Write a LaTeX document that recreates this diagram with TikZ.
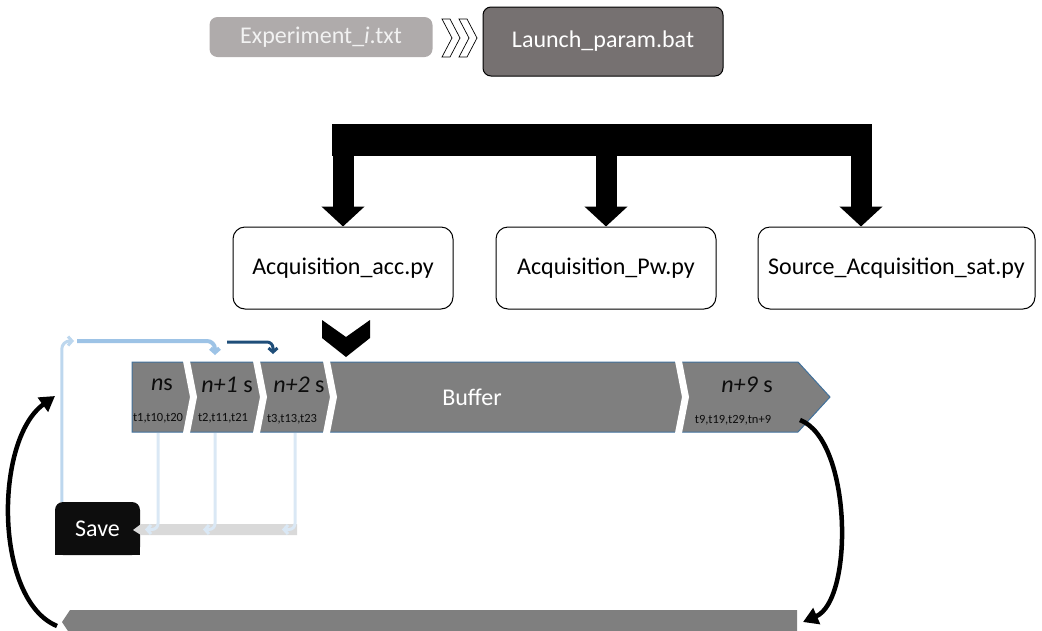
\documentclass[tikz,border=0pt]{standalone}
\usepackage{fontspec}
\setmainfont{Carlito}
\usepackage{tikz}
\usetikzlibrary{arrows.meta,positioning,calc}
\definecolor{Ash}{HTML}{AFABAB}
\definecolor{Graphite}{HTML}{767171}
\definecolor{Steel}{HTML}{7F7F7F}
\definecolor{Rim}{HTML}{41719C}
\definecolor{Sky}{HTML}{9DC3E6}
\definecolor{Mist}{HTML}{BDD7EE}
\definecolor{Haze}{HTML}{DAE8F5}
\definecolor{Navy}{HTML}{1F4E79}
\definecolor{Ink}{HTML}{0D0D0D}
\definecolor{Fog}{HTML}{D9D9D9}
\tikzset{
  big/.style={font=\fontsize{24}{28}\selectfont},
  filebox/.style={big,rounded corners=8pt,minimum height=40pt,text=white!95!black},
  scriptbox/.style={big,draw=black,line width=1pt,rounded corners=12pt,fill=white,
    minimum width=220pt,minimum height=82pt},
  slot/.style={font=\fontsize{24}{28}\selectfont,text=Ink},
  stamp/.style={font=\fontsize{12.5}{14}\selectfont,text=Ink},
  stem/.style={line width=21pt,-{Triangle[width=42pt,length=20pt]}},
  tap/.style={line width=3pt,rounded corners=6pt,-{Straight Barb[length=4pt,width=9pt]}},
  loopback/.style={line width=4.5pt,-{Triangle[width=17pt,length=15pt]}},
}

\begin{document}
\begin{tikzpicture}[x=1pt,y=-1pt]
        \useasboundingbox (0,0) rectangle (1042,630);
        \node[filebox,fill=Ash,minimum width=223pt] (exp) at (321,37) {Experiment\_\textit{i}.txt};
        \node[filebox,fill=Graphite,draw=black,line width=1pt,text=white,
          minimum width=240pt,minimum height=69pt] (launch) at (603,41.5) {Launch\_param.bat};
        \foreach \dx in {0,17} {
          \filldraw[fill=white,draw=black,line width=0.7pt]
            (442+\dx,19) -- (450+\dx,19) -- (460+\dx,38) -- (450+\dx,57) -- (442+\dx,57) -- (452+\dx,38) -- cycle;
        }
        \node[scriptbox] (acc) at (343,268) {Acquisition\_acc.py};
        \node[scriptbox] (pw) at (606,268) {Acquisition\_Pw.py};
        \node[scriptbox,minimum width=277pt] (src) at (896.5,268) {Source\_Acquisition\_sat.py};
        \fill (332,124) rectangle (872,156);
        \draw[stem] (acc.north |- 0,150) -- (acc.north);
        \draw[stem] (pw.north |- 0,150) -- (pw.north);
        \draw[stem] (861,150) -- (src.north -| 861,0);
        \fill (322,320) -- (346,337) -- (370,320) -- (370,338) -- (346,357) -- (322,338) -- cycle;
        \filldraw[fill=Steel,draw=Rim,line width=1pt]
          (132,362) -- (798,362) -- (830,397) -- (798,432) -- (132,432) -- cycle;
        \foreach \sx in {183,253,323,675} {
          \fill[white] (\sx,361) -- (\sx+7,361) -- (\sx+14,397) -- (\sx+7,433) -- (\sx,433) -- (\sx+7,397) -- cycle;
        }
        \node[slot] (s0) at (162,385) {\textit{n}s};
        \node[stamp] (t0) at (158,418) {t1,t10,t20};
        \node[slot] (s1) at (227,385) {\textit{n+1} s};
        \node[stamp] (t1) at (223,418) {t2,t11,t21};
        \node[slot] (s2) at (299,385) {\textit{n+2} s};
        \node[stamp] (t2) at (292,419) {t3,t13,t23};
        \node[big,text=white] (buf) at (472,397) {Buffer};
        \node[slot] (s9) at (747,385) {\textit{n+9} s};
        \node[stamp] (t9) at (733,420) {t9,t19,t29,tn+9};
        \fill[Ink,rounded corners=8pt] (55,502) rectangle (140,555);
        \fill[Ink] (55,520) rectangle (140,555);
        \node[big,text=white,minimum width=85pt,minimum height=53pt] (save) at (97.5,528.5) {Save};
        \fill[Fog] (133,530) -- (141,524) -- (297,524) -- (297,535) -- (141,535) -- cycle;
        \foreach \tx/\ax in {158/145,215/203,295/282} {
          \draw[tap,Haze] (\tx,433) |- (\ax,529.5);
        }
        \draw[tap,Mist,rounded corners=8pt] ($(save.north west)+(7,0)$) |- (74,341);
        \draw[tap,Sky,line width=4pt,rounded corners=8pt] (77,341) -| (215,355);
        \draw[tap,Navy] (227,342) -| (273,354);
        \fill[Steel] (62,622) -- (70,610) -- (797,610) -- (797,634) -- (70,634) -- cycle;
        \coordinate (bufSE) at (800,420);
        \coordinate (barE) at (803,622);
        \coordinate (barW) at (57,626);
        \coordinate (bufW) at (55,396);
        \draw[loopback] (bufSE) .. controls (852,440) and (854,600) .. (barE);
        \draw[loopback] (barW) .. controls (-6,600) and (-6,440) .. (bufW);
      \end{tikzpicture}
\end{document}
